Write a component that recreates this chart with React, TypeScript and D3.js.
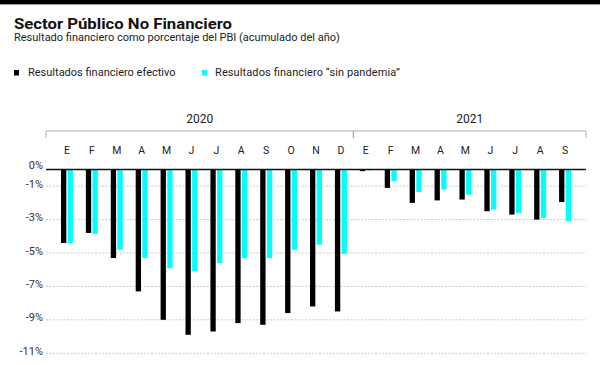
import React from "react";
import * as d3 from "d3";

const months = ["E", "F", "M", "A", "M", "J", "J", "A", "S", "O", "N", "D",
	"E", "F", "M", "A", "M", "J", "J", "A", "S"];
const years = ["2020", "2020", "2020", "2020", "2020", "2020", "2020", "2020", "2020", "2020", "2020", "2020",
	"2021", "2021", "2021", "2021", "2021", "2021", "2021", "2021", "2021"];
const efectivo = [-4.4, -3.8, -5.3, -7.3, -9.0, -9.9, -9.7, -9.2, -9.3, -8.6, -8.2, -8.5,
	-0.1, -1.1, -2.0, -1.85, -1.8, -2.5, -2.7, -3.0, -1.95];
const sinPandemia = [-4.4, -3.85, -4.8, -5.3, -5.9, -6.1, -5.6, -5.3, -5.3, -4.8, -4.5, -5.05,
	-0.05, -0.7, -1.35, -1.2, -1.5, -2.4, -2.6, -2.9, -3.1];
const gridTicks = [-1, -3, -5, -7, -9, -11];
const yearLabels = ["2020", "2021"];

const font = "Roboto, 'Noto Sans', sans-serif";
const CYAN = "#00ffff";

const App = () => {
	const left = 46;
	const right = 586;
	const ids = months.map((m, i) => `${i}`);

	const xScale = d3.scaleBand()
		.domain(ids)
		.range([54.5, 577.5])
		.paddingInner(0.52)
		.paddingOuter(0.26);

	const inner = d3.scaleBand()
		.domain(["ef", "sp"])
		.range([0, xScale.bandwidth()])
		.paddingInner(0.2);

	const yScale = d3.scaleLinear()
		.domain([0, -11])
		.range([169.5, 353.2]);

	const step = xScale.step();
	// year bracket edges
	const yearEdges = yearLabels.map(y => {
		const idx = years.map((v, i) => (v === y ? i : -1)).filter(i => i >= 0);
		const first = xScale(`${idx[0]}`) - (step - xScale.bandwidth()) / 2;
		const last = xScale(`${idx[idx.length - 1]}`) + xScale.bandwidth() + (step - xScale.bandwidth()) / 2;
		return { y, x0: idx[0] === 0 ? left : first, x1: idx[idx.length - 1] === months.length - 1 ? right : last };
	});

	return (
		<svg width={600} height={365} style={{ position: "absolute", left: 0, top: 0, background: "#fff" }}>
			<rect x={0} y={0} width={600} height={4} fill="#000" />
			<line x1={0} x2={600} y1={4.5} y2={4.5} stroke="#999" strokeWidth={1} />

			<text x={14} y={28.5} fontFamily={font} fontWeight={700} fontSize={15} fill="#111"
				textLength={218} lengthAdjust="spacingAndGlyphs">Sector Público No Financiero</text>
			<text x={14} y={41} fontFamily={font} fontSize={11} fill="#222">Resultado financiero como porcentaje del PBI (acumulado del año)</text>

			<rect x={14} y={70} width={5} height={5.5} fill="#000" />
			<text x={28} y={76} fontFamily={font} fontSize={11} fill="#222">Resultados financiero efectivo</text>
			<rect x={202} y={70} width={5} height={5.5} fill={CYAN} />
			<text x={215} y={76} fontFamily={font} fontSize={11} fill="#222"
				textLength={185} lengthAdjust="spacing">Resultados financiero “sin pandemia”</text>

			{yearEdges.map(e => (
				<g key={e.y}>
					<path d={`M${e.x0},138V131H${e.x1}V138`} fill="none" stroke="#aaa" strokeWidth={1} />
					<text x={(e.x0 + e.x1) / 2} y={123} textAnchor="middle" fontFamily={font} fontSize={12} fill="#222">{e.y}</text>
				</g>
			))}

			{months.map((m, i) => (
				<text key={i} x={xScale(`${i}`) + xScale.bandwidth() / 2} y={154} textAnchor="middle"
					fontFamily={font} fontSize={10.5} fill="#222">{m}</text>
			))}

			{gridTicks.map(t => (
				<g key={t}>
					<line x1={left} x2={right} y1={yScale(t)} y2={yScale(t)} stroke="#bbb" strokeWidth={0.8} strokeDasharray="2,1.5" />
					<text x={43} y={yScale(t) + 1.5} textAnchor="end" fontFamily={font} fontSize={11} fill="#333">{`${t}%`}</text>
				</g>
			))}
			<text x={43} y={169} textAnchor="end" fontFamily={font} fontSize={11} fill="#333">0%</text>

			{efectivo.map((v, i) => (
				<rect key={`e${i}`} x={xScale(`${i}`) + inner("ef")} width={inner.bandwidth()}
					y={yScale(0)} height={yScale(v) - yScale(0)} fill="#000" />
			))}
			{sinPandemia.map((v, i) => (
				<rect key={`s${i}`} x={xScale(`${i}`) + inner("sp")} width={inner.bandwidth()}
					y={yScale(0)} height={yScale(v) - yScale(0)} fill={CYAN} />
			))}

			<line x1={left} x2={right} y1={yScale(0)} y2={yScale(0)} stroke="#111" strokeWidth={1.5} />
		</svg>
	);
};

export default App;
